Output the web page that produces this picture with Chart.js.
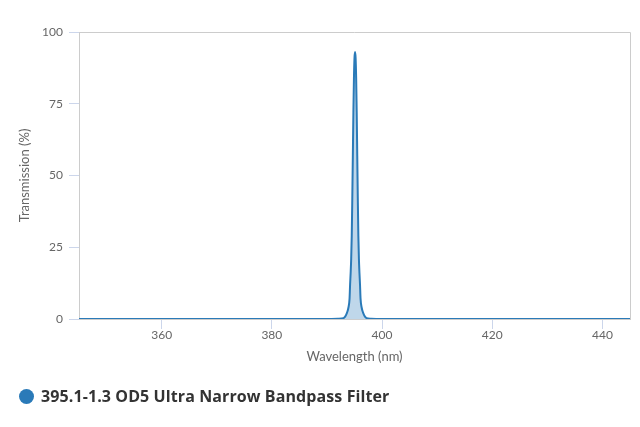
<!DOCTYPE html>
<html>
<head>
    <title>395.1-1.3 OD5 Ultra Narrow Bandpass Filter</title>
    <script src="https://cdn.jsdelivr.net/npm/chart.js"></script>
    <style>
        body { margin: 0; background: #fff; }
        #contenedor { position: relative; width: 640px; height: 427px; }
        #leyenda {
            position: absolute; left: 19px; top: 385px;
            font: bold 16px "Open Sans", sans-serif; color: #333;
            display: flex; align-items: center; white-space: nowrap;
            letter-spacing: 0.1px;
        }
        #leyenda span.punto {
            display: inline-block; width: 15px; height: 15px; border-radius: 50%;
            background: #2a7ab8; margin-right: 7px;
        }
    </style>
</head>
<body>
    <div id="contenedor">
        <canvas id="grafica" width="640" height="427"></canvas>
        <div id="leyenda"><span class="punto"></span><span id="nombreSerie"></span></div>
    </div>

    <script>
        // Datos
        const nombreSerie = '395.1-1.3 OD5 Ultra Narrow Bandpass Filter';
        const longitudOnda = [345, 360, 380, 390, 392, 393.0, 393.3, 393.5, 393.7, 393.9, 394.1, 394.2, 394.3, 394.4, 394.5, 394.6, 394.7, 394.8, 394.9, 395.0, 395.1, 395.2, 395.3, 395.4, 395.5, 395.6, 395.7, 395.8, 395.9, 396.0, 396.1, 396.3, 396.5, 396.7, 396.9, 397.2, 398, 400, 420, 445];
        const transmision = [0, 0, 0, 0, 0.1, 0.3, 0.8, 1.5, 2.5, 4, 7, 12, 16, 21, 29, 42, 57, 72, 84, 91, 93, 91, 84, 72, 57, 42, 29, 21, 16, 12, 7, 4, 2.5, 1.5, 0.8, 0.3, 0.1, 0, 0, 0];
        const ticksX = [360, 380, 400, 420, 440];
        const ticksY = [0, 25, 50, 75, 100];

        document.getElementById('nombreSerie').textContent = nombreSerie;

        // borde gris arriba y a la derecha del area de trazado
        const bordePlot = {
            id: 'bordePlot',
            beforeDatasetsDraw(chart) {
                const { ctx, chartArea: a } = chart;
                ctx.save();
                ctx.strokeStyle = '#cccccc';
                ctx.lineWidth = 1;
                ctx.beginPath();
                ctx.moveTo(a.left, a.top + 0.5);
                ctx.lineTo(a.right + 0.5, a.top + 0.5);
                ctx.lineTo(a.right + 0.5, a.bottom);
                ctx.stroke();
                ctx.restore();
            }
        };

        const puntos = longitudOnda.map((x, i) => ({ x: x, y: transmision[i] }));

        const ctx = document.getElementById('grafica').getContext('2d');
        const chart = new Chart(ctx, {
            type: 'line',
            data: {
                datasets: [{
                    label: nombreSerie,
                    data: puntos,
                    borderColor: '#2a7ab8',
                    backgroundColor: 'rgba(42, 122, 184, 0.3)',
                    borderWidth: 2,
                    fill: 'origin',
                    pointRadius: 0,
                    tension: 0.3,
                    cubicInterpolationMode: 'monotone'
                }]
            },
            options: {
                responsive: false,
                animation: false,
                layout: { padding: { left: 0, right: 10, top: 32, bottom: 60 } },
                plugins: {
                    legend: { display: false },
                    tooltip: { enabled: false }
                },
                scales: {
                    x: {
                        type: 'linear',
                        min: 345,
                        max: 445,
                        afterBuildTicks(scale) { scale.ticks = ticksX.map(v => ({ value: v })); },
                        afterFit(scale) { scale.height = 48; },
                        grid: { drawOnChartArea: false, drawTicks: true, tickLength: 10, color: '#ccd6eb' },
                        border: { color: '#cccccc' },
                        ticks: { color: '#666', font: { family: 'Lato', size: 12 }, padding: -1, maxRotation: 0 },
                        title: { display: true, text: 'Wavelength (nm)', color: '#666', font: { family: 'Lato', size: 13 }, padding: { top: 0, bottom: 2 } }
                    },
                    y: {
                        min: 0,
                        max: 100,
                        afterBuildTicks(scale) { scale.ticks = ticksY.map(v => ({ value: v })); },
                        afterFit(scale) { scale.width = 79; },
                        grid: { drawOnChartArea: false, drawTicks: true, tickLength: 10, color: '#ccd6eb' },
                        border: { color: '#cccccc' },
                        ticks: { color: '#666', font: { family: 'Lato', size: 12 }, padding: 6 },
                        title: { display: true, text: 'Transmission (%)', color: '#666', font: { family: 'Lato', size: 13 }, padding: { top: 17, bottom: 0 } }
                    }
                }
            },
            plugins: [bordePlot]
        });
    </script>
</body>
</html>
